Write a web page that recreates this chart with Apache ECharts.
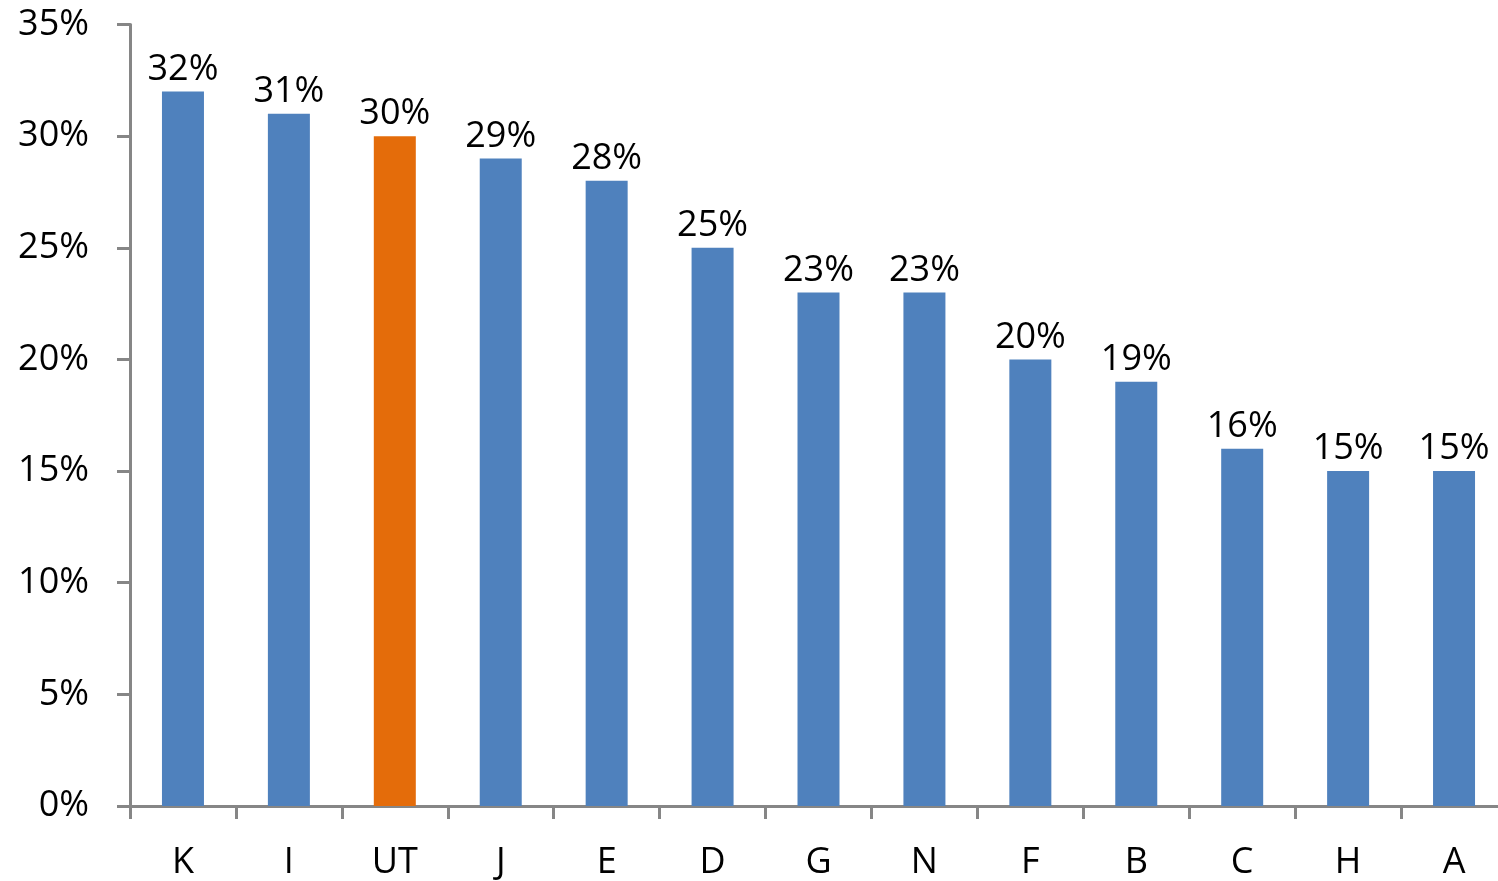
<!DOCTYPE html>
<html>
<head>
<meta charset="utf-8">
<script src="https://cdn.jsdelivr.net/npm/echarts@6/dist/echarts.min.js"></script>
<style>
html, body { margin: 0; padding: 0; background: #fff; overflow: hidden; }
#chart { width: 1512px; height: 881px; }
</style>
</head>
<body>
<div id="chart"></div>
<script type="text/javascript">

// values
var categories = ['K', 'I', 'UT', 'J', 'E', 'D', 'G', 'N', 'F', 'B', 'C', 'H', 'A'];
var shares = [32, 31, 30, 29, 28, 25, 23, 23, 20, 19, 16, 15, 15];
var highlight = 'UT';

var blue = '#4F81BD';
var orange = '#E46C0A';
var axisGrey = '#868686';
var font = 'Open Sans';

var barData = [];
for (var i = 0; i < categories.length; i++) {
	barData.push({
		value: shares[i],
		itemStyle: { color: categories[i] == highlight ? orange : blue }
	});
}

var option = {
	animation: false,
	grid: {
		left: 130,
		top: 24.5,
		width: 1377,
		height: 782
	},
	xAxis: {
		type: 'category',
		data: categories,
		axisLine: { lineStyle: { color: axisGrey, width: 3 } },
		axisTick: { show: true, length: 13, lineStyle: { color: axisGrey, width: 3 } },
		axisLabel: {
			color: '#000',
			fontFamily: font,
			fontSize: 36,
			margin: 39
		}
	},
	yAxis: {
		type: 'value',
		min: 0,
		max: 35,
		interval: 5,
		splitLine: { show: false },
		axisLine: { show: true, lineStyle: { color: axisGrey, width: 3 } },
		axisTick: { show: true, length: 13, lineStyle: { color: axisGrey, width: 3 } },
		axisLabel: {
			color: '#000',
			fontFamily: font,
			fontSize: 36,
			margin: 41,
			formatter: '{value}%'
		}
	},
	series: [{
		type: 'bar',
		data: barData,
		barWidth: 42,
		label: {
			show: true,
			position: 'top',
			distance: 4,
			color: '#000',
			fontFamily: font,
			fontSize: 36,
			formatter: '{c}%'
		}
	}]
};

var chart = echarts.init(document.getElementById('chart'));
chart.setOption(option);
</script>
</body>
</html>
